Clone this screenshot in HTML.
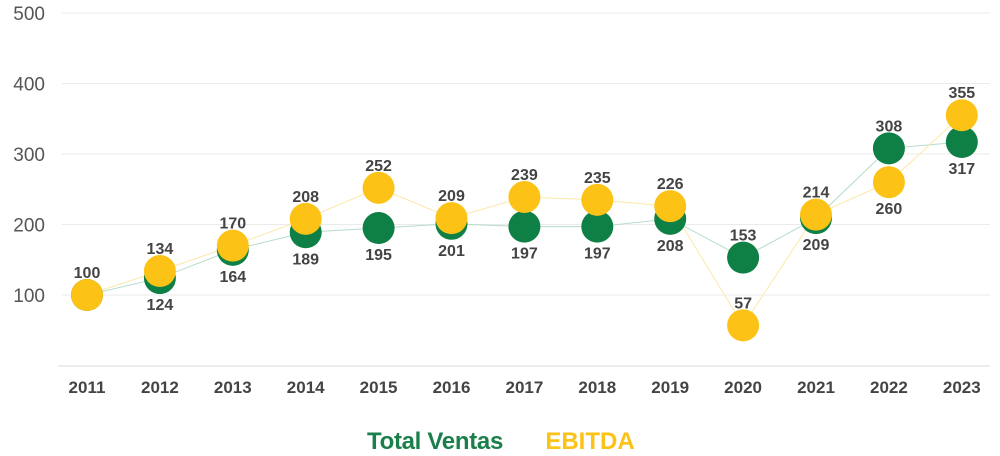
<!DOCTYPE html>
<html><head><meta charset="utf-8"><style>
html,body{margin:0;padding:0;background:#fff;width:1000px;height:456px;overflow:hidden}
svg text{font-family:"Liberation Sans",sans-serif}
</style></head><body>
<svg id="c" width="1000" height="456" xmlns="http://www.w3.org/2000/svg"></svg>
<script>
const s=document.getElementById('c');
const yrs=[2011,2012,2013,2014,2015,2016,2017,2018,2019,2020,2021,2022,2023];
const g=[100,124,164,189,195,201,197,197,208,153,209,308,317];
const e=[100,134,170,208,252,209,239,235,226,57,214,260,355];
const X=i=>87+72.9*i, Y=v=>365.5-0.705*v;
let h='';
for(let v=100;v<=500;v+=100){h+=`<line x1="62" x2="990" y1="${Y(v)}" y2="${Y(v)}" stroke="#ebebeb" stroke-width="1"/>`;
h+=`<text x="45" y="${Y(v)+7}" text-anchor="end" font-size="19" fill="#555">${v}</text>`;}
h+=`<line x1="58" x2="990" y1="366" y2="366" stroke="#d9d9d9" stroke-width="1"/>`;
yrs.forEach((y,i)=>h+=`<text x="${X(i)}" y="393" text-anchor="middle" font-size="17" font-weight="bold" fill="#444">${y}</text>`);
h+=`<polyline fill="none" stroke="#b7dccb" stroke-width="1" points="${g.map((v,i)=>X(i)+','+Y(v)).join(' ')}"/>`;
h+=`<polyline fill="none" stroke="#fbe8a8" stroke-width="1" points="${e.map((v,i)=>X(i)+','+Y(v)).join(' ')}"/>`;
g.forEach((v,i)=>h+=`<circle cx="${X(i)}" cy="${Y(v)}" r="16" fill="#0e7f45"/>`);
e.forEach((v,i)=>h+=`<circle cx="${X(i)}" cy="${Y(v)}" r="16" fill="#fcc216"/>`);
const T=(x,y,t)=>h+=`<text x="${x}" y="${y}" text-anchor="middle" font-size="16" font-weight="bold" fill="#444">${t}</text>`;
yrs.forEach((y,i)=>{
 const a=g[i],b=e[i];
 if(i==0){T(X(i),Y(100)-17,100);return;}
 if(i==9){T(X(i),Y(a)-17,a);T(X(i),Y(b)-17,b);return;}
 const hi=Math.max(a,b),lo=Math.min(a,b);
 T(X(i),Y(hi)-17,hi);
 T(X(i),Y(lo)+32,lo);
});
h+=`<text x="435" y="449" text-anchor="middle" font-size="24" font-weight="bold" fill="#1a7f4b" letter-spacing="-0.3">Total Ventas</text>`;
h+=`<text x="590" y="449" text-anchor="middle" font-size="24" font-weight="bold" fill="#fcc216">EBITDA</text>`;
s.innerHTML=h;
</script>
</body></html>
